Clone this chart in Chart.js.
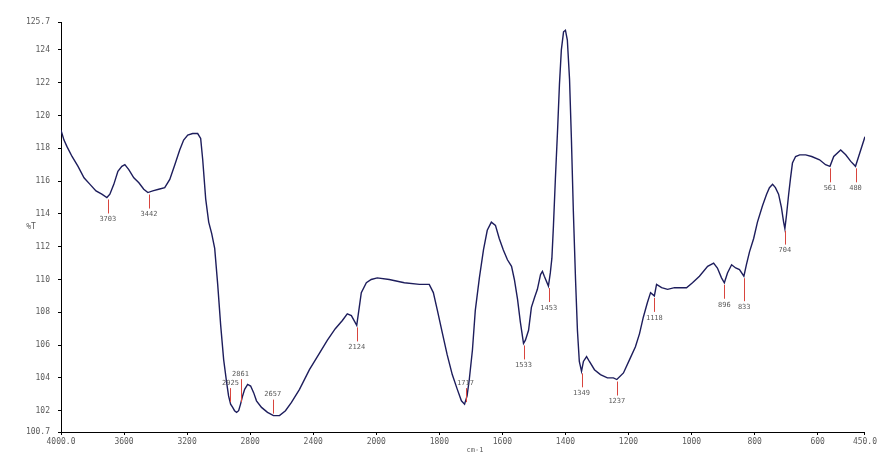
<!DOCTYPE html>
<html><head><meta charset="utf-8">
<script src="https://cdn.jsdelivr.net/npm/chart.js@4.4.1/dist/chart.umd.min.js"></script>
<style>html,body{margin:0;padding:0;background:#fff;}#wrap{width:879px;height:454px;}</style>
</head><body><div id="wrap"><canvas id="c" width="879" height="454"></canvas></div>
<script>
const wavenumbers = [
4000,3981,3962,3930,3892,3854,3816,3778,3741,3709,
3690,3665,3639,3614,3595,3570,3538,3506,3475,3449,
3418,3380,3342,3310,3278,3247,3222,3196,3165,3133,
3114,3101,3082,3063,3044,3025,3006,2987,2968,2949,
2937,2924,2911,2899,2886,2873,2861,2848,2835,2816,
2797,2778,2760,2728,2690,2652,2614,2576,2538,2487,
2424,2361,2310,2260,2215,2184,2158,2124,2108,2095,
2063,2032,1997,1959,1911,1863,1832,1819,1806,1790,
1775,1759,1743,1730,1720,1712,1705,1695,1686,1673,
1660,1648,1635,1622,1610,1597,1584,1571,1562,1552,
1543,1533,1527,1517,1508,1498,1489,1479,1473,1467,
1454,1448,1443,1438,1432,1425,1419,1413,1406,1400,
1394,1387,1381,1375,1368,1362,1356,1349,1343,1333,
1324,1308,1289,1267,1248,1237,1216,1197,1178,1165,
1153,1140,1130,1118,1111,1095,1076,1054,1016,997,
975,949,930,918,905,896,886,873,860,848,
834,826,816,803,791,775,762,753,743,734,
724,715,708,704,699,692,686,680,670,657,
638,619,594,575,561,549,527,511,495,480,
470,450];
const transmittance = [
119.1,118.5,118.1,117.5,116.9,116.2,115.8,115.4,115.2,115.0,
115.2,115.8,116.6,116.9,117.0,116.7,116.2,115.9,115.5,115.3,
115.4,115.5,115.6,116.1,117.0,117.9,118.5,118.8,118.9,118.9,
118.6,117.3,114.9,113.5,112.8,111.9,109.7,107.2,105.1,103.7,
102.9,102.4,102.2,102.0,101.9,102.0,102.4,102.9,103.3,103.6,
103.5,103.1,102.6,102.2,101.9,101.7,101.7,102.0,102.5,103.3,
104.5,105.5,106.3,107.0,107.5,107.9,107.8,107.2,108.3,109.2,
109.8,110.0,110.1,110.0,109.8,109.7,109.7,109.2,108.1,106.7,
105.4,104.2,103.3,102.6,102.4,102.9,103.9,105.7,108.1,110.1,
111.8,113.0,113.5,113.3,112.5,111.8,111.2,110.8,110.0,108.8,
107.4,106.1,106.3,106.9,108.3,108.9,109.4,110.3,110.5,110.2,
109.6,110.4,111.3,113.3,116.1,119.1,121.9,124.0,125.1,125.2,
124.6,122.2,118.5,114.2,110.0,106.9,105.0,104.4,105.0,105.3,
105.0,104.5,104.2,104.0,104.0,103.9,104.3,105.1,105.9,106.7,
107.7,108.6,109.2,109.0,109.7,109.5,109.4,109.5,109.5,109.8,
110.2,110.8,111.0,110.7,110.1,109.8,110.4,110.9,110.7,110.6,
110.2,110.9,111.7,112.5,113.5,114.5,115.2,115.6,115.8,115.6,
115.2,114.4,113.5,113.1,113.9,115.2,116.2,117.1,117.5,117.6,
117.6,117.5,117.3,117.0,116.9,117.5,117.9,117.6,117.2,116.9,
117.5,118.7];
const peakWavenumbers = [3703,3442,2925,2861,2657,2124,1717,1533,1453,1349,1237,1118,896,833,704,561,480];
const xTickValues = [4000,3600,3200,2800,2400,2000,1800,1600,1400,1200,1000,800,600,450];
const xTickLabels = ["4000.0","3600","3200","2800","2400","2000","1800","1600","1400","1200","1000","800","600","450.0"];
const yTickValues = [100.7,102,104,106,108,110,112,114,116,118,120,122,124,125.7];
const yTickLabels = ["100.7","102","104","106","108","110","112","114","116","118","120","122","124","125.7"];
const yTitle = "%T";
const xTitle = "cm-1";

// The instrument compresses the 4000-2000 range by half
function toAxis(w){ return w > 2000 ? 2000 + (w - 2000) / 2 : w; }

const FONT = '"DejaVu Sans Mono", monospace';
const TXT = '#5a5a5a';

const peakPlugin = {
  id: 'peaks',
  afterDatasetsDraw(chart){
    const ctx = chart.ctx, xs = chart.scales.x, ys = chart.scales.y;
    ctx.save();
    ctx.font = '7px ' + FONT;
    ctx.textAlign = 'center';
    ctx.textBaseline = 'middle';
    const placed = [];
    peakWavenumbers.forEach(p => {
      let best = 0, bd = Infinity;
      wavenumbers.forEach((w,i) => { const d = Math.abs(w - p); if (d < bd){ bd = d; best = i; } });
      const x = xs.getPixelForValue(toAxis(p));
      const y = ys.getPixelForValue(transmittance[best]);
      const up = transmittance[best] < 103;
      let len = 14;
      placed.forEach(q => { if (q.up === up && Math.abs(q.x - x) < 20 && q.len === len) len += 9; });
      placed.push({x, up, len});
      const y2 = up ? y - 2 - len : y + 2 + len;
      ctx.strokeStyle = '#d8453e';
      ctx.lineWidth = 1;
      ctx.beginPath();
      ctx.moveTo(Math.round(x) + 0.5, up ? y - 2 : y + 2);
      ctx.lineTo(Math.round(x) + 0.5, y2);
      ctx.stroke();
      ctx.fillStyle = TXT;
      ctx.fillText(String(p), x, up ? y2 - 5 : y2 + 6);
    });
    ctx.restore();
  },
  afterDraw(chart){
    const ctx = chart.ctx, a = chart.chartArea;
    ctx.save();
    ctx.fillStyle = TXT;
    ctx.font = '8px ' + FONT;
    ctx.textAlign = 'center';
    ctx.textBaseline = 'middle';
    ctx.fillText(yTitle, 31, (a.top + a.bottom) / 2);
    ctx.font = '7px ' + FONT;
    ctx.fillText(xTitle, (a.left + a.right) / 2 + 12, 450);
    ctx.restore();
  }
};

new Chart(document.getElementById('c'), {
  type: 'line',
  data: {
    datasets: [{
      data: wavenumbers.map((w,i) => ({x: toAxis(w), y: transmittance[i]})),
      borderColor: '#1d1d5c',
      borderWidth: 1.4,
      pointRadius: 0,
      tension: 0,
      fill: false
    }]
  },
  options: {
    responsive: false,
    animation: false,
    devicePixelRatio: 1,
    layout: { padding: { top: 22, right: 11, left: 0, bottom: 0 } },
    plugins: { legend: { display: false }, tooltip: { enabled: false } },
    scales: {
      x: {
        type: 'linear', reverse: true, min: toAxis(450), max: toAxis(4000),
        afterBuildTicks(s){ s.ticks = xTickValues.map(v => ({value: toAxis(v)})); },
        afterFit(s){ s.height = 22; },
        ticks: { autoSkip: false, maxRotation: 0, padding: 2, color: TXT,
          font: { family: FONT, size: 8 },
          callback: (v, i) => xTickLabels[i] },
        grid: { drawOnChartArea: false, tickLength: 3, color: '#000' },
        border: { color: '#000', width: 1 }
      },
      y: {
        type: 'linear', min: 100.7, max: 125.7,
        afterBuildTicks(s){ s.ticks = yTickValues.map(v => ({value: v})); },
        afterFit(s){ s.width = 61; },
        ticks: { autoSkip: false, padding: 8, color: TXT,
          font: { family: FONT, size: 8 },
          callback: (v, i) => yTickLabels[i] },
        grid: { drawOnChartArea: false, tickLength: 3, color: '#000' },
        border: { color: '#000', width: 1 }
      }
    }
  },
  plugins: [peakPlugin]
});
</script>
</body></html>
